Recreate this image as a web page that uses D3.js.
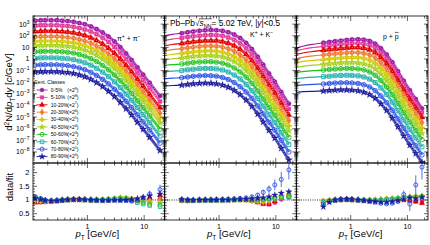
<!DOCTYPE html>
<html>
<head>
<meta charset="utf-8">
<script src="https://cdn.jsdelivr.net/npm/d3@7"></script>
<style>
  body { margin: 0; background: #fff; }
  text { font-family: "Liberation Sans", Arial, sans-serif; fill: #000; }
</style>
</head>
<body>
<div id="chart"></div>
<script>
// centrality classes, scale factors and colours
const classes = ["0-5%", "5-10%", "10-20%", "20-30%", "30-40%", "40-50%", "50-60%", "60-70%", "70-80%", "80-90%"];
const scalePow = [9, 8, 7, 6, 5, 4, 3, 2, 1, 0];
const colors = ["#a01aa8", "#e03c9c", "#e00000", "#f07838", "#d4c800", "#a8d020", "#1ec01e", "#1eb0ac", "#2a50e8", "#1c1c9c"];

// pT bins (GeV/c)
const pionPt = [0.12, 0.15, 0.18, 0.23, 0.29, 0.36, 0.45, 0.57, 0.72, 0.9, 1.15, 1.45, 1.85, 2.35, 3.0, 3.8, 4.8, 6.0, 7.6, 9.6, 12.5, 19];
const kaonPt = [0.22, 0.28, 0.35, 0.45, 0.57, 0.72, 0.9, 1.15, 1.45, 1.85, 2.35, 3.0, 3.8, 4.8, 6.0, 7.6, 9.6, 12.5, 17];
const protonPt = [0.33, 0.42, 0.53, 0.67, 0.85, 1.05, 1.35, 1.7, 2.15, 2.7, 3.4, 4.3, 5.4, 6.8, 8.6, 11, 14, 18];
// fit curves below the first measured bin
const kaonFitPt = [0.11, 0.15];
const protonFitPt = [0.11, 0.15, 0.22];

// log10 of d2N/dpTdy (scaled), one row per class
const pionSpectra = [
  [3.30, 3.33, 3.34, 3.34, 3.33, 3.30, 3.26, 3.20, 3.10, 2.98, 2.80, 2.57, 2.28, 1.93, 1.50, 1.02, 0.48, -0.08, -0.72, -1.35, -2.05, -3.19],
  [2.87, 2.90, 2.91, 2.91, 2.90, 2.87, 2.83, 2.77, 2.66, 2.54, 2.36, 2.12, 1.83, 1.47, 1.04, 0.55, 0.01, -0.54, -1.18, -1.81, -2.51, -3.65],
  [2.36, 2.39, 2.40, 2.40, 2.39, 2.36, 2.32, 2.26, 2.15, 2.02, 1.83, 1.59, 1.29, 0.93, 0.49, 0.01, -0.53, -1.09, -1.72, -2.35, -3.05, -4.19],
  [1.90, 1.93, 1.94, 1.94, 1.93, 1.90, 1.86, 1.79, 1.68, 1.55, 1.36, 1.11, 0.81, 0.44, 0.00, -0.49, -1.03, -1.58, -2.21, -2.84, -3.53, -4.67],
  [1.51, 1.54, 1.55, 1.55, 1.54, 1.51, 1.47, 1.40, 1.29, 1.15, 0.96, 0.71, 0.39, 0.02, -0.42, -0.91, -1.45, -2.00, -2.63, -3.25, -3.95, -5.09],
  [1.13, 1.16, 1.17, 1.17, 1.16, 1.13, 1.09, 1.02, 0.90, 0.77, 0.56, 0.30, -0.01, -0.39, -0.84, -1.33, -1.87, -2.42, -3.05, -3.67, -4.36, -5.50],
  [0.62, 0.65, 0.66, 0.66, 0.65, 0.62, 0.58, 0.51, 0.39, 0.25, 0.04, -0.22, -0.55, -0.93, -1.38, -1.87, -2.41, -2.96, -3.59, -4.20, -4.90, -6.04],
  [0.06, 0.09, 0.10, 0.10, 0.09, 0.06, 0.02, -0.06, -0.18, -0.32, -0.53, -0.80, -1.13, -1.52, -1.97, -2.47, -3.01, -3.55, -4.18, -4.79, -5.49, -6.63],
  [-0.53, -0.50, -0.49, -0.49, -0.50, -0.53, -0.57, -0.65, -0.77, -0.92, -1.14, -1.41, -1.75, -2.14, -2.60, -3.09, -3.63, -4.18, -4.80, -5.41, -6.10, -7.24],
  [-1.13, -1.10, -1.09, -1.09, -1.10, -1.13, -1.17, -1.25, -1.38, -1.53, -1.75, -2.03, -2.37, -2.77, -3.23, -3.73, -4.27, -4.81, -5.43, -6.04, -6.73, -7.87]
];
const kaonSpectra = [
  [2.22, 2.30, 2.37, 2.43, 2.47, 2.49, 2.48, 2.42, 2.30, 2.10, 1.80, 1.38, 0.85, 0.20, -0.50, -1.25, -1.95, -2.85, -3.85],
  [1.81, 1.89, 1.95, 2.01, 2.05, 2.07, 2.05, 1.99, 1.86, 1.65, 1.35, 0.92, 0.39, -0.26, -0.96, -1.71, -2.40, -3.30, -4.30],
  [1.34, 1.41, 1.48, 1.53, 1.57, 1.58, 1.56, 1.49, 1.36, 1.14, 0.83, 0.40, -0.13, -0.78, -1.48, -2.22, -2.92, -3.81, -4.81],
  [0.89, 0.96, 1.02, 1.08, 1.11, 1.12, 1.10, 1.02, 0.88, 0.66, 0.34, -0.10, -0.64, -1.29, -1.98, -2.72, -3.41, -4.30, -5.30],
  [0.48, 0.55, 0.61, 0.66, 0.69, 0.70, 0.67, 0.59, 0.44, 0.21, -0.12, -0.56, -1.10, -1.75, -2.44, -3.18, -3.86, -4.75, -5.75],
  [0.08, 0.15, 0.21, 0.26, 0.29, 0.29, 0.26, 0.17, 0.02, -0.22, -0.55, -1.00, -1.54, -2.19, -2.88, -3.61, -4.30, -5.19, -6.19],
  [-0.43, -0.36, -0.30, -0.26, -0.23, -0.23, -0.27, -0.36, -0.52, -0.77, -1.11, -1.56, -2.10, -2.75, -3.44, -4.17, -4.85, -5.74, -6.74],
  [-1.00, -0.93, -0.88, -0.83, -0.81, -0.81, -0.85, -0.95, -1.12, -1.38, -1.72, -2.18, -2.73, -3.38, -4.06, -4.79, -5.46, -6.35, -7.35],
  [-1.61, -1.55, -1.49, -1.45, -1.43, -1.44, -1.48, -1.59, -1.76, -2.02, -2.38, -2.84, -3.39, -4.04, -4.72, -5.44, -6.12, -7.00, -8.00],
  [-2.25, -2.19, -2.14, -2.10, -2.08, -2.09, -2.14, -2.25, -2.43, -2.70, -3.06, -3.53, -4.08, -4.73, -5.41, -6.13, -6.80, -7.68, -8.68]
];
const protonSpectra = [
  [1.40, 1.46, 1.52, 1.58, 1.63, 1.67, 1.69, 1.66, 1.55, 1.32, 0.92, 0.38, -0.28, -1.05, -1.88, -2.70, -3.45, -4.25],
  [1.10, 1.16, 1.21, 1.27, 1.31, 1.35, 1.36, 1.32, 1.20, 0.96, 0.55, 0.01, -0.65, -1.42, -2.24, -3.06, -3.81, -4.61],
  [0.75, 0.81, 0.86, 0.91, 0.95, 0.98, 0.98, 0.93, 0.80, 0.55, 0.13, -0.41, -1.07, -1.84, -2.66, -3.47, -4.21, -5.01],
  [0.35, 0.40, 0.45, 0.50, 0.53, 0.55, 0.55, 0.49, 0.35, 0.09, -0.33, -0.88, -1.54, -2.30, -3.12, -3.93, -4.67, -5.47],
  [-0.05, 0.00, 0.05, 0.09, 0.12, 0.13, 0.12, 0.05, -0.10, -0.37, -0.80, -1.36, -2.02, -2.77, -3.59, -4.39, -5.13, -5.92],
  [-0.47, -0.42, -0.38, -0.34, -0.32, -0.31, -0.34, -0.42, -0.58, -0.86, -1.30, -1.85, -2.51, -3.27, -4.07, -4.88, -5.61, -6.40],
  [-0.95, -0.90, -0.86, -0.83, -0.81, -0.81, -0.85, -0.94, -1.11, -1.40, -1.85, -2.41, -3.07, -3.82, -4.62, -5.42, -6.15, -6.94],
  [-1.52, -1.48, -1.44, -1.41, -1.40, -1.41, -1.45, -1.55, -1.73, -2.03, -2.48, -3.05, -3.71, -4.45, -5.25, -6.05, -6.78, -7.56],
  [-2.15, -2.11, -2.07, -2.05, -2.04, -2.06, -2.11, -2.22, -2.41, -2.72, -3.18, -3.75, -4.41, -5.15, -5.95, -6.74, -7.46, -8.25],
  [-2.75, -2.71, -2.68, -2.66, -2.66, -2.68, -2.74, -2.86, -3.06, -3.38, -3.85, -4.42, -5.08, -5.82, -6.61, -7.40, -8.12, -8.90]
];
const kaonFitLow = [[2.00, 2.12], [1.60, 1.71], [1.14, 1.25], [0.71, 0.81], [0.31, 0.41], [-0.07, 0.02], [-0.56, -0.48], [-1.11, -1.04], [-1.70, -1.65], [-2.32, -2.28]];
const protonFitLow = [[0.95, 1.12, 1.27], [0.70, 0.86, 0.99], [0.40, 0.54, 0.65], [0.04, 0.16, 0.27], [-0.32, -0.21, -0.12], [-0.71, -0.61, -0.53], [-1.16, -1.07, -1.00], [-1.70, -1.62, -1.56], [-2.30, -2.23, -2.18], [-2.87, -2.81, -2.78]];

// data / fit
const pionRatio = [
  [0.98, 0.96, 0.95, 0.96, 0.97, 0.99, 1.00, 1.01, 1.02, 1.02, 1.01, 1.00, 0.99, 0.99, 1.00, 1.01, 1.02, 1.01, 0.99, 1.00, 1.02, 1.05],
  [0.95, 0.94, 0.95, 0.96, 0.98, 1.00, 1.01, 1.02, 1.02, 1.01, 1.01, 1.00, 0.99, 1.00, 1.01, 1.02, 1.02, 1.00, 0.98, 0.99, 1.03, 1.08],
  [0.90, 0.91, 0.93, 0.95, 0.97, 0.99, 1.00, 1.02, 1.03, 1.02, 1.01, 1.00, 0.99, 1.00, 1.01, 1.02, 1.03, 1.01, 0.98, 1.00, 1.08, 1.18],
  [0.97, 0.95, 0.95, 0.96, 0.98, 1.00, 1.01, 1.02, 1.02, 1.01, 1.00, 1.00, 1.00, 1.01, 1.03, 1.04, 1.04, 1.02, 0.99, 0.97, 0.98, 1.02],
  [1.02, 0.99, 0.97, 0.97, 0.98, 1.00, 1.01, 1.02, 1.02, 1.01, 1.00, 1.00, 1.01, 1.03, 1.06, 1.08, 1.07, 1.04, 1.00, 0.96, 0.93, 0.92],
  [1.05, 1.01, 0.98, 0.97, 0.98, 1.00, 1.01, 1.02, 1.02, 1.01, 1.00, 1.00, 1.01, 1.03, 1.06, 1.09, 1.08, 1.04, 0.99, 0.94, 0.90, 0.88],
  [1.08, 1.03, 0.99, 0.97, 0.98, 1.00, 1.01, 1.02, 1.02, 1.01, 1.00, 1.00, 1.01, 1.03, 1.05, 1.07, 1.06, 1.02, 0.96, 0.90, 0.85, 0.82],
  [1.10, 1.04, 0.99, 0.97, 0.98, 1.00, 1.01, 1.02, 1.02, 1.01, 1.00, 1.00, 1.00, 1.01, 1.02, 1.02, 1.00, 0.96, 0.90, 0.85, 0.80, 0.76],
  [1.12, 1.05, 1.00, 0.97, 0.97, 0.99, 1.01, 1.02, 1.02, 1.01, 1.00, 0.99, 0.99, 0.99, 1.00, 0.99, 0.98, 0.97, 1.00, 1.08, 1.22, 1.38],
  [1.06, 1.02, 0.98, 0.96, 0.97, 0.99, 1.01, 1.02, 1.02, 1.01, 1.00, 0.99, 0.98, 0.98, 0.99, 0.99, 1.00, 1.02, 1.05, 1.10, 1.15, 1.22]
];
const kaonRatio = [
  [0.99, 0.98, 0.98, 0.99, 1.00, 1.00, 1.00, 1.00, 1.01, 1.02, 1.03, 1.02, 0.99, 0.94, 0.88, 0.86, 0.92, 1.02, 1.10],
  [0.98, 0.98, 0.98, 0.99, 1.00, 1.00, 1.00, 1.00, 1.01, 1.02, 1.03, 1.02, 0.98, 0.92, 0.85, 0.83, 0.90, 1.04, 1.14],
  [0.98, 0.98, 0.99, 0.99, 1.00, 1.00, 1.00, 1.00, 1.01, 1.02, 1.03, 1.01, 0.97, 0.91, 0.86, 0.86, 0.95, 1.08, 1.18],
  [0.99, 0.98, 0.99, 0.99, 1.00, 1.00, 1.00, 1.00, 1.01, 1.02, 1.02, 1.01, 0.98, 0.94, 0.92, 0.95, 1.04, 1.14, 1.22],
  [0.99, 0.99, 0.99, 1.00, 1.00, 1.00, 1.00, 1.00, 1.01, 1.02, 1.02, 1.01, 0.99, 0.97, 0.97, 1.00, 1.08, 1.16, 1.20],
  [1.00, 0.99, 0.99, 1.00, 1.00, 1.00, 1.00, 1.00, 1.01, 1.02, 1.02, 1.01, 1.00, 0.99, 1.00, 1.03, 1.08, 1.12, 1.15],
  [1.00, 0.99, 0.99, 1.00, 1.00, 1.00, 1.00, 1.00, 1.01, 1.01, 1.02, 1.01, 1.00, 1.00, 1.01, 1.04, 1.07, 1.10, 1.12],
  [1.01, 1.00, 0.99, 1.00, 1.00, 1.00, 1.00, 1.00, 1.00, 1.01, 1.01, 1.01, 1.01, 1.02, 1.03, 1.05, 1.06, 1.08, 1.10],
  [1.00, 0.99, 0.99, 1.00, 1.00, 1.00, 1.01, 1.02, 1.03, 1.04, 1.06, 1.08, 1.12, 1.18, 1.28, 1.40, 1.55, 1.75, 2.10],
  [1.02, 1.00, 0.99, 1.00, 1.00, 1.00, 1.00, 1.00, 1.00, 1.01, 1.02, 1.03, 1.04, 1.06, 1.08, 1.12, 1.18, 1.25, 1.30]
];
const protonRatio = [
  [0.97, 0.98, 1.00, 1.01, 1.01, 1.00, 1.00, 1.00, 1.00, 1.00, 1.01, 1.02, 1.03, 1.02, 1.00, 0.98, 0.96, 0.94],
  [0.96, 0.98, 1.00, 1.01, 1.01, 1.01, 1.00, 1.00, 1.00, 1.00, 1.01, 1.02, 1.03, 1.02, 1.01, 0.98, 0.95, 0.92],
  [0.95, 0.98, 1.00, 1.01, 1.02, 1.01, 1.00, 0.99, 0.99, 1.00, 1.01, 1.02, 1.03, 1.03, 1.02, 0.98, 0.94, 0.88],
  [0.95, 0.98, 1.00, 1.01, 1.02, 1.01, 1.00, 0.99, 0.99, 1.00, 1.01, 1.03, 1.04, 1.05, 1.06, 1.08, 1.10, 1.12],
  [0.96, 0.98, 1.00, 1.01, 1.02, 1.01, 1.00, 0.99, 0.99, 1.00, 1.01, 1.03, 1.05, 1.07, 1.09, 1.12, 1.14, 1.16],
  [0.95, 0.98, 1.00, 1.02, 1.02, 1.01, 1.00, 0.99, 0.98, 0.99, 1.01, 1.03, 1.05, 1.07, 1.09, 1.10, 1.12, 1.14],
  [0.93, 0.97, 1.00, 1.02, 1.02, 1.01, 1.00, 0.99, 0.98, 0.98, 1.00, 1.02, 1.04, 1.06, 1.08, 1.10, 1.11, 1.12],
  [0.90, 0.96, 1.00, 1.02, 1.03, 1.02, 1.00, 0.98, 0.97, 0.97, 0.98, 1.00, 1.02, 1.04, 1.06, 1.08, 1.10, 1.10],
  [0.85, 0.95, 1.00, 1.02, 1.03, 1.02, 1.00, 0.98, 0.95, 0.92, 0.88, 0.86, 0.88, 0.95, 1.20, 0.85, 1.55, 2.20],
  [0.75, 0.92, 0.99, 1.02, 1.03, 1.02, 1.00, 0.98, 0.96, 0.94, 0.92, 0.92, 0.94, 0.98, 1.02, 1.08, 1.05, 1.10]
];
// uncertainties of the 70-80% ratio points
const pionRatioErr = [0.02, 0.01, 0.01, 0.01, 0.01, 0.01, 0.01, 0.01, 0.01, 0.01, 0.01, 0.01, 0.01, 0.02, 0.02, 0.03, 0.03, 0.04, 0.06, 0.08, 0.12, 0.18];
const kaonRatioErr = [0.02, 0.01, 0.01, 0.01, 0.01, 0.01, 0.01, 0.01, 0.02, 0.02, 0.03, 0.04, 0.05, 0.07, 0.10, 0.14, 0.20, 0.28, 0.35];
const protonRatioErr = [0.05, 0.02, 0.01, 0.01, 0.01, 0.01, 0.01, 0.02, 0.02, 0.03, 0.04, 0.05, 0.06, 0.10, 0.15, 0.25, 0.35, 0.45];

const W = 430, H = 245;
const panelX = [33, 164.7, 296.3, 428];
const topY = 16, midY = 163, botY = 220;
const ptRange = [0.11, 23];

const species = [
  { pt: pionPt, spec: pionSpectra, ratio: pionRatio, err: pionRatioErr, fitPt: [], fitLow: null },
  { pt: kaonPt, spec: kaonSpectra, ratio: kaonRatio, err: kaonRatioErr, fitPt: kaonFitPt, fitLow: kaonFitLow },
  { pt: protonPt, spec: protonSpectra, ratio: protonRatio, err: protonRatioErr, fitPt: protonFitPt, fitLow: protonFitLow }
];

const markers = [
  { type: d3.symbolCircle, open: false },
  { type: d3.symbolSquare, open: false },
  { type: d3.symbolTriangle, open: false },
  { type: d3.symbolDiamond, open: false },
  { type: d3.symbolCross, open: false },
  { type: d3.symbolStar, open: false },
  { type: d3.symbolCircle, open: true },
  { type: d3.symbolSquare, open: true },
  { type: d3.symbolCircle, open: true },
  { type: d3.symbolStar, open: false }
];

const svg = d3.select("#chart").append("svg").attr("width", W).attr("height", H);
const defs = svg.append("defs");

const yU = d3.scaleLog().domain([Math.pow(10, -8.95), Math.pow(10, 3.7)]).range([midY, topY]);
const yL = d3.scaleLinear().domain([0.27, 2.35]).range([botY, midY]);

function marker(g, c, px, py, size) {
  const m = markers[c];
  g.append("path")
    .attr("d", d3.symbol().type(m.type).size(size)())
    .attr("transform", `translate(${px},${py})`)
    .attr("fill", m.open ? "none" : colors[c])
    .attr("stroke", colors[c])
    .attr("stroke-width", m.open ? 0.9 : 0.3);
}

function ticks(x, y, x0, x1, y0, y1, yMajor, yMinor) {
  const g = svg.append("g").attr("stroke", "#000").attr("stroke-width", 0.6);
  const xMajor = [1, 10];
  const xMinor = [0.2, 0.3, 0.4, 0.5, 0.6, 0.7, 0.8, 0.9, 2, 3, 4, 5, 6, 7, 8, 9, 20];
  const seg = (a, b, c, d) => g.append("line").attr("x1", a).attr("y1", b).attr("x2", c).attr("y2", d);
  xMajor.forEach(v => { seg(x(v), y0, x(v), y0 - 5); seg(x(v), y1, x(v), y1 + 5); });
  xMinor.forEach(v => { seg(x(v), y0, x(v), y0 - 2.5); seg(x(v), y1, x(v), y1 + 2.5); });
  yMajor.forEach(v => { seg(x0, y(v), x0 + 4, y(v)); seg(x1, y(v), x1 - 4, y(v)); });
  yMinor.forEach(v => { seg(x0, y(v), x0 + 2, y(v)); seg(x1, y(v), x1 - 2, y(v)); });
  svg.append("rect").attr("x", x0).attr("y", y1).attr("width", x1 - x0).attr("height", y0 - y1)
    .attr("fill", "none").attr("stroke", "#000").attr("stroke-width", 0.8);
}

const yMajorU = d3.range(-8, 4).map(k => Math.pow(10, k));
const yMinorU = [];
d3.range(-9, 4).forEach(k => d3.range(2, 10).forEach(m => {
  const v = m * Math.pow(10, k);
  if (v > yU.domain()[0] && v < yU.domain()[1]) yMinorU.push(v);
}));
const yMajorL = [0.5, 1, 1.5, 2];
const yMinorL = d3.range(3, 24).map(k => k / 10).filter(v => yMajorL.indexOf(v) < 0);

species.forEach((sp, p) => {
  const x = d3.scaleLog().domain(ptRange).range([panelX[p], panelX[p + 1]]);

  defs.append("clipPath").attr("id", "cu" + p).append("rect")
    .attr("x", panelX[p]).attr("y", topY).attr("width", panelX[p + 1] - panelX[p]).attr("height", midY - topY);
  defs.append("clipPath").attr("id", "cl" + p).append("rect")
    .attr("x", panelX[p]).attr("y", midY).attr("width", panelX[p + 1] - panelX[p]).attr("height", botY - midY);

  const gU = svg.append("g").attr("clip-path", `url(#cu${p})`);
  const gL = svg.append("g").attr("clip-path", `url(#cl${p})`);

  const line = d3.line().x(d => x(d[0])).y(d => yU(Math.pow(10, d[1]))).curve(d3.curveMonotoneX);

  sp.spec.forEach((vals, c) => {
    const pts = sp.pt.map((v, i) => [v, vals[i]]);
    const fit = (sp.fitLow ? sp.fitPt.map((v, i) => [v, sp.fitLow[c][i]]) : []).concat(pts);
    gU.append("path").attr("d", line(fit)).attr("fill", "none")
      .attr("stroke", colors[c]).attr("stroke-width", 1.2);
    gU.append("path").attr("d", line(pts)).attr("fill", "none")
      .attr("stroke", colors[c]).attr("stroke-width", 3).attr("stroke-opacity", 0.7);
    pts.forEach(d => marker(gU, c, x(d[0]), yU(Math.pow(10, d[1])), 16));
    gU.append("path").attr("d", line(pts)).attr("fill", "none")
      .attr("stroke", "#fff").attr("stroke-width", 0.7).attr("stroke-dasharray", "0.8,1.8");
  });

  // ratio panel
  gL.append("line").attr("x1", panelX[p]).attr("x2", panelX[p + 1]).attr("y1", yL(1)).attr("y2", yL(1))
    .attr("stroke", "#000").attr("stroke-width", 0.8).attr("stroke-dasharray", "1,1.3");
  sp.ratio.forEach((vals, c) => {
    vals.forEach((v, i) => {
      if (c === 8) {
        gL.append("line").attr("x1", x(sp.pt[i])).attr("x2", x(sp.pt[i]))
          .attr("y1", yL(v - sp.err[i])).attr("y2", yL(v + sp.err[i]))
          .attr("stroke", colors[c]).attr("stroke-width", 0.8);
      }
      marker(gL, c, x(sp.pt[i]), yL(v), 13);
    });
  });

  ticks(x, yU, panelX[p], panelX[p + 1], midY, topY, yMajorU, yMinorU);
  ticks(x, yL, panelX[p], panelX[p + 1], botY, midY, yMajorL, yMinorL);

  // x tick labels
  [1, 10].forEach(v => svg.append("text").attr("x", x(v)).attr("y", 228.5)
    .attr("text-anchor", "middle").style("font-size", "7px").text(v));

  // x title
  const xt = svg.append("text").attr("x", x(1) - 12).attr("y", 237).style("font-size", "9.5px");
  xt.append("tspan").style("font-style", "italic").text("p");
  xt.append("tspan").attr("dy", 2.5).style("font-size", "6.5px").text("T");
  xt.append("tspan").attr("dy", -2.5).text(" [GeV/");
  xt.append("tspan").style("font-style", "italic").text("c");
  xt.append("tspan").text("]");
});

// y tick labels
yMajorU.forEach((v, i) => {
  const k = i - 8;
  const t = svg.append("text").attr("x", 29.5).attr("y", yU(v) + 2.5).attr("text-anchor", "end").style("font-size", "7px");
  if (k === 0) t.text("1");
  else if (k === 1) t.text("10");
  else {
    t.append("tspan").text("10");
    t.append("tspan").attr("dy", -3).style("font-size", "5px").text(k < 0 ? "\u2212" + (-k) : k);
  }
});
yMajorL.forEach(v => svg.append("text").attr("x", 29.5).attr("y", yL(v) + 2.5)
  .attr("text-anchor", "end").style("font-size", "7.5px").text(v));

// y titles
const yt = svg.append("text").attr("transform", "translate(12,92) rotate(-90)")
  .attr("text-anchor", "middle").style("font-size", "9.5px");
yt.append("tspan").text("d");
yt.append("tspan").attr("dy", -3).style("font-size", "6.5px").text("2");
yt.append("tspan").attr("dy", 3).text("N/d");
yt.append("tspan").style("font-style", "italic").text("p");
yt.append("tspan").attr("dy", 2.5).style("font-size", "6.5px").text("T");
yt.append("tspan").attr("dy", -2.5).text("d");
yt.append("tspan").style("font-style", "italic").text("y");
yt.append("tspan").text(" [");
yt.append("tspan").style("font-style", "italic").text("c");
yt.append("tspan").text("/GeV]");

svg.append("text").attr("transform", "translate(13,187) rotate(-90)")
  .attr("text-anchor", "middle").style("font-size", "9.5px").text("data/fit");

// particle labels
function particle(x0, y0, name, bar) {
  const t = svg.append("text").attr("x", x0).attr("y", y0).style("font-size", "7px");
  if (bar) {
    t.text("p + p");
    const w = t.node().getComputedTextLength();
    svg.append("line").attr("x1", x0 + w - 3.9).attr("x2", x0 + w - 0.2)
      .attr("y1", y0 - 6.6).attr("y2", y0 - 6.6).attr("stroke", "#000").attr("stroke-width", 0.6);
    return;
  }
  t.append("tspan").text(name);
  t.append("tspan").attr("dy", -2.8).style("font-size", "5px").text("+");
  t.append("tspan").attr("dy", 2.8).text(" + " + name);
  t.append("tspan").attr("dy", -2.8).style("font-size", "5px").text("\u2212");
}
particle(117, 41, "\u03c0");
particle(250, 37, "K");
particle(383, 39, null, true);

// collision system label
(function () {
  const y0 = 26, fs = 8.3;
  let cx = 170;
  const piece = (s, opt = {}) => {
    const t = svg.append("text").attr("x", cx).attr("y", y0 + (opt.dy || 0))
      .style("font-size", (opt.size || fs) + "px").style("font-style", opt.italic ? "italic" : "normal").text(s);
    const w = t.node().getComputedTextLength();
    const x0 = cx;
    cx += w;
    return [x0, cx];
  };
  piece("Pb\u2013Pb ");
  const r = piece("\u221a");
  piece("s", { italic: true });
  const nn = piece("NN", { size: 5.5, dy: 2 });
  svg.append("line").attr("x1", r[1] - 0.5).attr("x2", nn[1] + 0.3).attr("y1", y0 - 7.2).attr("y2", y0 - 7.2)
    .attr("stroke", "#000").attr("stroke-width", 0.6);
  piece(" = 5.02 TeV, |");
  piece("y", { italic: true });
  piece("|<0.5");
})();

// legend
svg.append("text").attr("x", 34).attr("y", 83.5).style("font-size", "5px").text("Cent. Classes");
classes.forEach((name, c) => {
  const yc = 90 + c * 7.4;
  svg.append("line").attr("x1", 36.5).attr("x2", 47.5).attr("y1", yc).attr("y2", yc)
    .attr("stroke", colors[c]).attr("stroke-width", 0.9);
  marker(svg, c, 42, yc, 13);
  svg.append("text").attr("x", 50.7).attr("y", yc + 1.8).style("font-size", "5px").text(name);
  const f = svg.append("text").attr("x", 67.3).attr("y", yc + 1.8).style("font-size", "5px");
  f.append("tspan").text("(\u00d72");
  f.append("tspan").attr("dy", -2.2).style("font-size", "3.8px").text(scalePow[c]);
  f.append("tspan").attr("dy", 2.2).text(")");
});
</script>
</body>
</html>
